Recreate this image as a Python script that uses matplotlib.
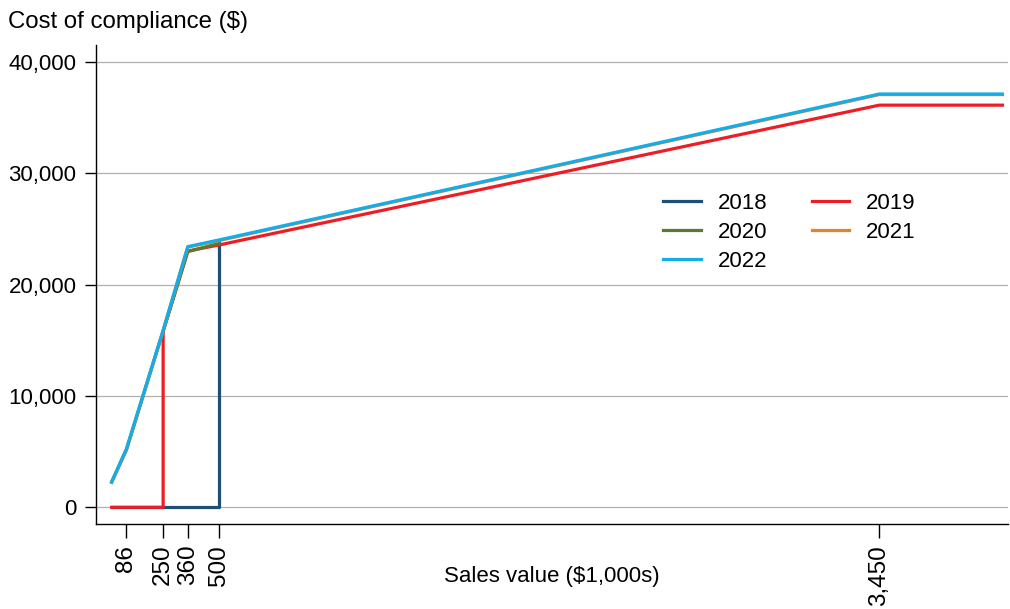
import matplotlib.pyplot as plt
from matplotlib.ticker import FuncFormatter

plt.rcParams["font.family"] = ["Liberation Sans", "DejaVu Sans"]

# sales value ($1,000s) and cost of compliance ($) by year
sales_2018 = [20, 500, 500]
cost_2018 = [0, 0, 23800]

sales_2019 = [20, 250, 250, 360, 500, 3450, 4000]
cost_2019 = [0, 0, 15800, 23000, 23550, 36100, 36100]

sales_2020 = [20, 86, 250, 360, 500]
cost_2020 = [2250, 5150, 15800, 22950, 23700]

sales_2021 = [20, 86, 250, 360, 500, 3450, 4000]
cost_2021 = [2250, 5200, 15850, 23350, 23950, 37050, 37050]

sales_2022 = [20, 86, 250, 360, 500, 3450, 4000]
cost_2022 = [2300, 5250, 15900, 23400, 24000, 37100, 37100]

x_ticks = [86, 250, 360, 500, 3450]
y_ticks = [0, 10000, 20000, 30000, 40000]

colors = {
    "2018": "#1f4e79",
    "2019": "#ee1c25",
    "2020": "#5a7a32",
    "2021": "#e5822b",
    "2022": "#13aee8",
}

fig = plt.figure(figsize=(10.1, 6.09), dpi=100)
ax = fig.add_axes([96 / 1010, 1 - 524 / 609, (1008 - 96) / 1010, (524 - 45) / 609])

lines = {}
lines["2018"], = ax.plot(sales_2018, cost_2018, color=colors["2018"], lw=2.3, label="2018")
lines["2019"], = ax.plot(sales_2019, cost_2019, color=colors["2019"], lw=2.3, label="2019")
lines["2020"], = ax.plot(sales_2020, cost_2020, color=colors["2020"], lw=2.3, label="2020")
lines["2021"], = ax.plot(sales_2021, cost_2021, color=colors["2021"], lw=2.3, label="2021")
lines["2022"], = ax.plot(sales_2022, cost_2022, color=colors["2022"], lw=2.3, label="2022")

ax.set_xlim(-50, 4025)
ax.set_ylim(-1500, 41500)

ax.set_xticks(x_ticks)
ax.set_xticklabels([f"{v:,}" for v in x_ticks], rotation=90, fontsize=17.5)
ax.set_yticks(y_ticks)
ax.yaxis.set_major_formatter(FuncFormatter(lambda v, p: f"{int(v):,}"))
ax.tick_params(axis="y", labelsize=16, length=8, width=1, pad=6)
ax.tick_params(axis="x", length=10, width=1, pad=5)

ax.grid(axis="y", color="#b0b0b0", lw=0.9, zorder=0)
ax.set_axisbelow(True)

for side in ["top", "right"]:
    ax.spines[side].set_visible(False)
for side in ["left", "bottom"]:
    ax.spines[side].set_linewidth(1)

ax.set_xlabel("Sales value ($1,000s)", fontsize=16)
ax.xaxis.set_label_coords(0.5, -0.11)
ax.xaxis.label.set_va("center")

fig.text(8 / 1010, 1 - 22 / 609, "Cost of compliance ($)", fontsize=17.3, va="center", ha="left")

order = ["2018", "2020", "2022", "2019", "2021"]
ax.legend(
    [lines[k] for k in order],
    order,
    ncol=2,
    frameon=False,
    fontsize=16,
    loc="upper left",
    bbox_to_anchor=(663 / 1010, 1 - 193 / 609),
    bbox_transform=fig.transFigure,
    borderpad=0,
    borderaxespad=0,
    handlelength=1.7,
    handletextpad=0.75,
    columnspacing=2.0,
    labelspacing=0.36,
)

plt.savefig("out.png", dpi=100)
plt.close()
